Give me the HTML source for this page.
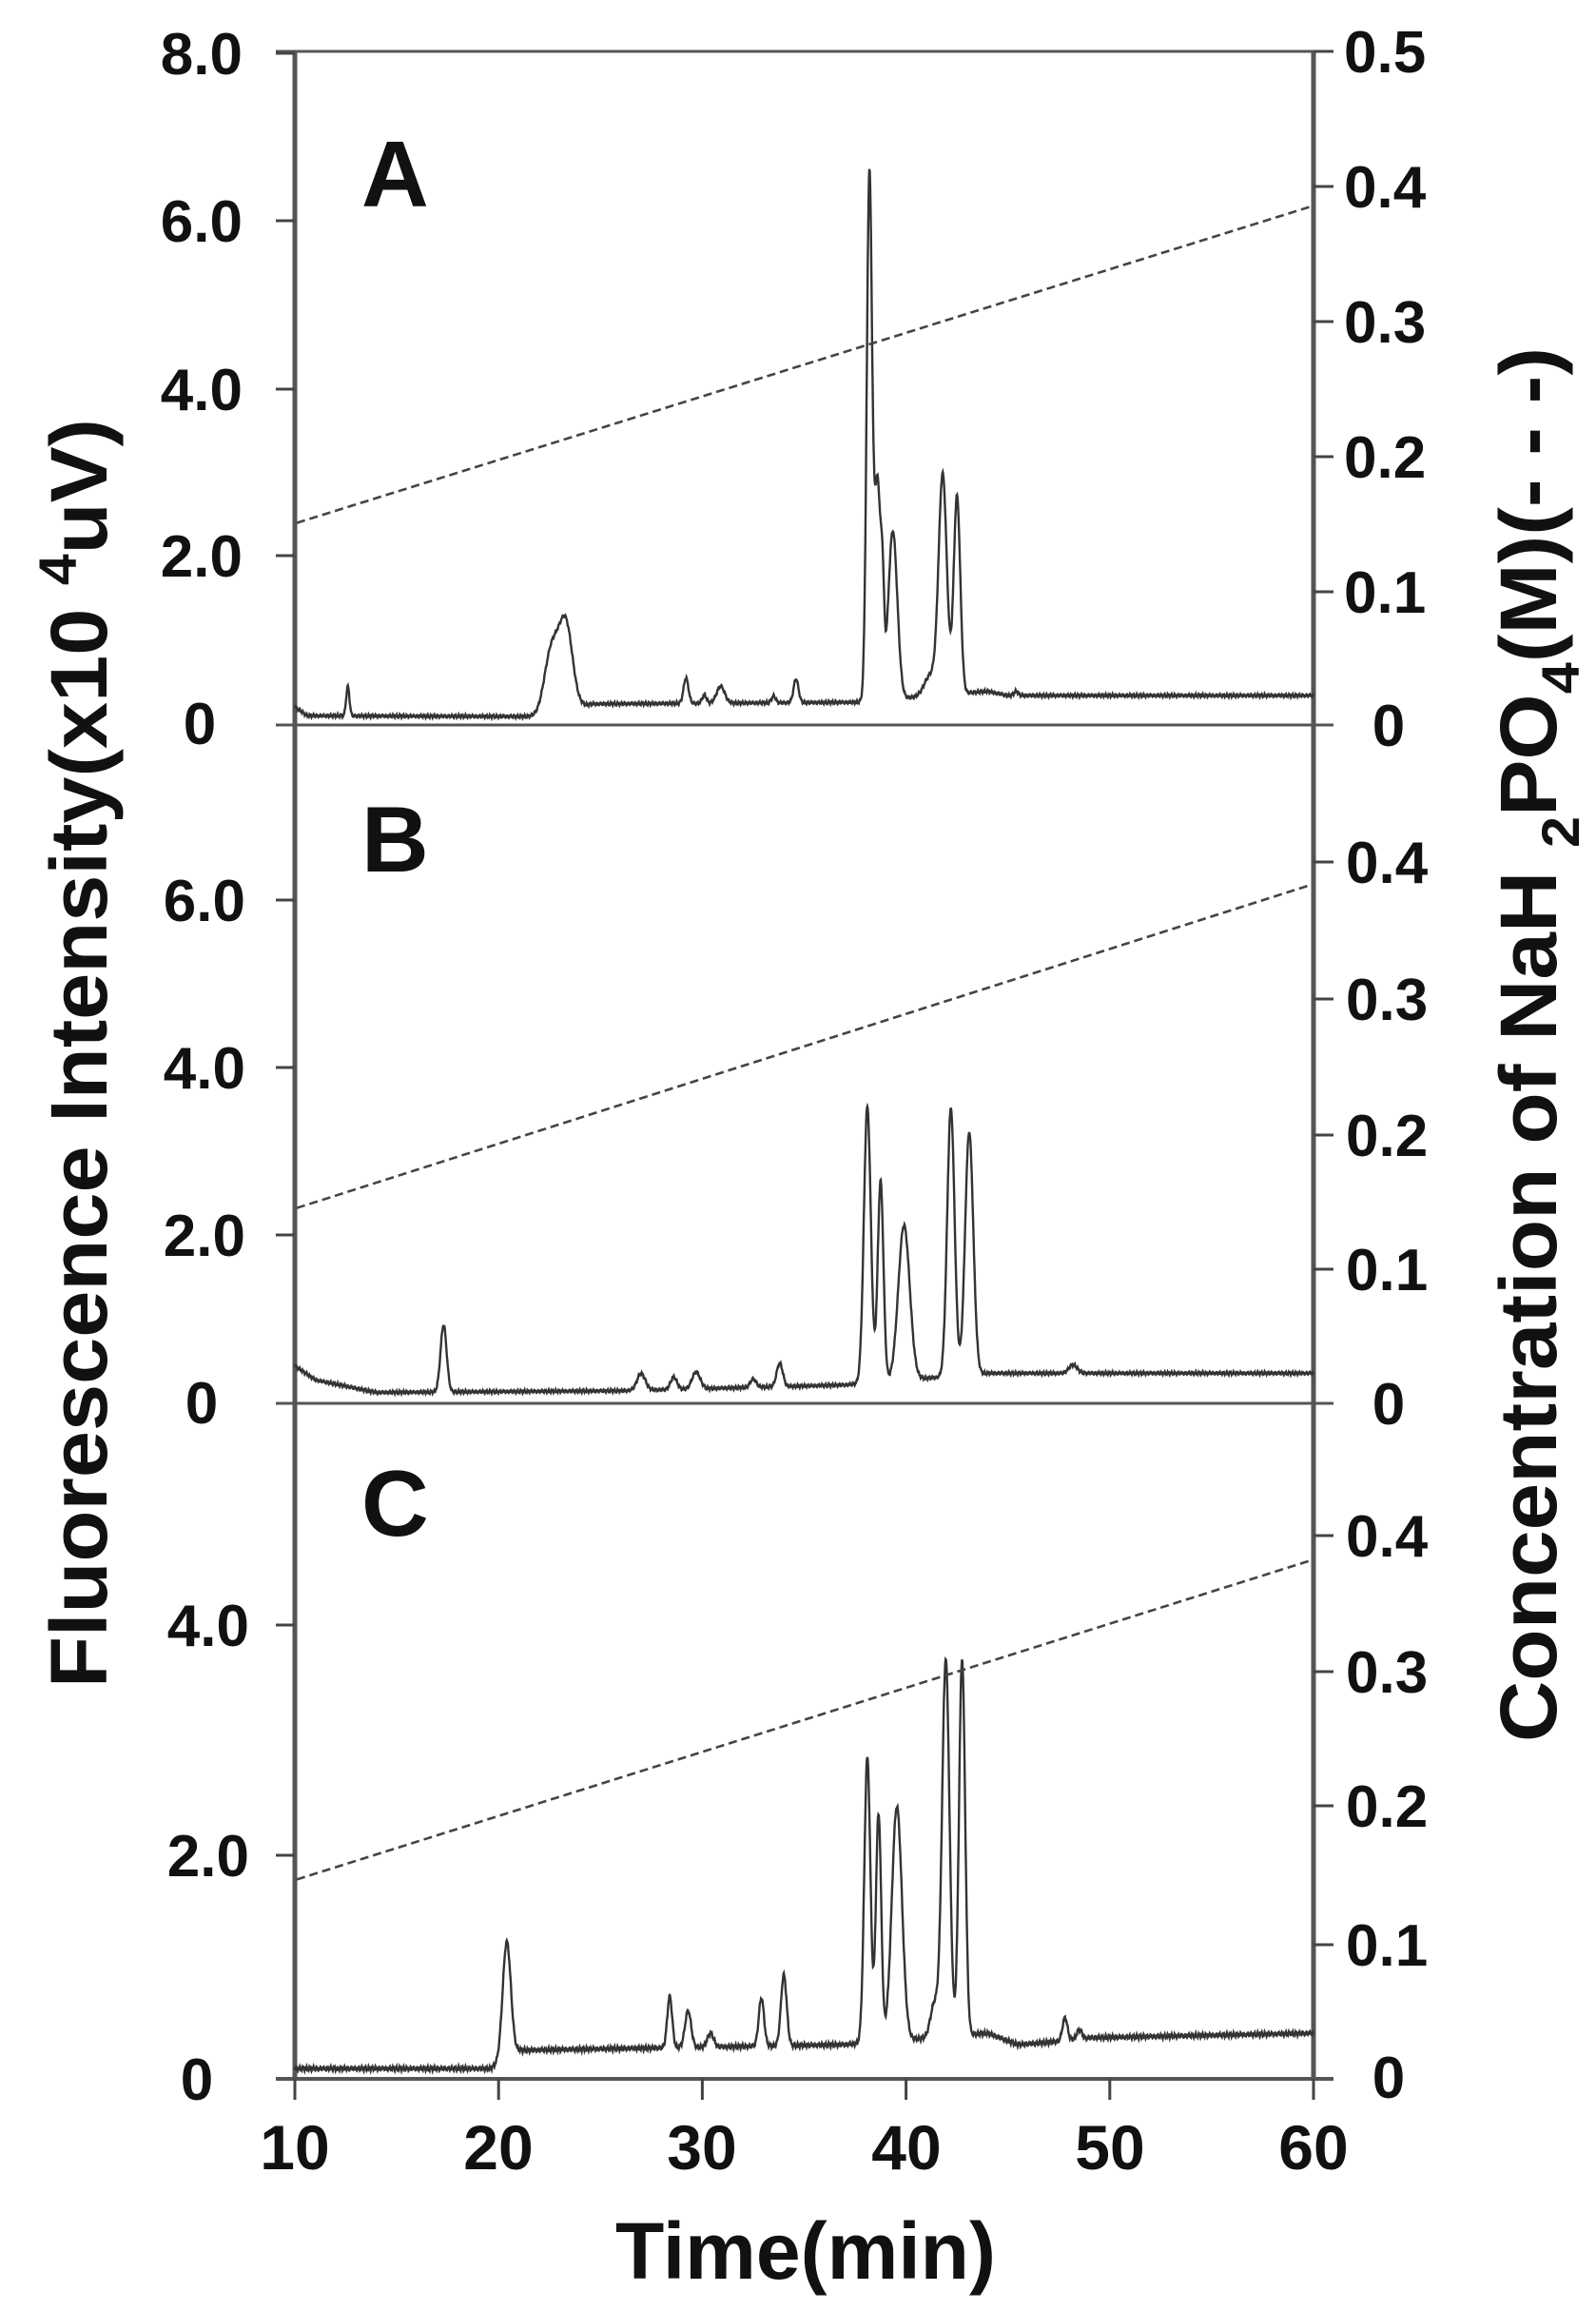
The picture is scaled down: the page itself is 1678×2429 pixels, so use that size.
<!DOCTYPE html>
<html><head><meta charset="utf-8">
<style>
html,body{margin:0;padding:0;background:#fff;}
svg{display:block;}
text{font-family:"Liberation Sans",Arial,sans-serif;font-weight:bold;fill:#111;}
</style></head>
<body>
<svg id="s" width="1678" height="2429" viewBox="0 0 1678 2429" xmlns="http://www.w3.org/2000/svg">
<g id="axes" stroke="#555" fill="none">
  <line x1="310" y1="54" x2="310" y2="2185" stroke-width="5"/>
  <line x1="1381" y1="54" x2="1381" y2="2185" stroke-width="5"/>
  <line x1="290" y1="54" x2="1402" y2="54" stroke-width="3"/>
  <line x1="290" y1="762" x2="1402" y2="762" stroke-width="3"/>
  <line x1="290" y1="1475" x2="1402" y2="1475" stroke-width="3"/>
  <line x1="290" y1="2185" x2="1402" y2="2185" stroke-width="4"/>
</g>
<g id="ticks" stroke="#444" stroke-width="3"></g>
<g id="curves"></g>
<g id="labels">
  <text x="380" y="217" font-size="98">A</text>
  <text x="380" y="916" font-size="98">B</text>
  <text x="380" y="1614" font-size="98">C</text>

  <text x="255" y="78" font-size="62" text-anchor="end">8.0</text>
  <text x="255" y="254" font-size="62" text-anchor="end">6.0</text>
  <text x="255" y="431" font-size="62" text-anchor="end">4.0</text>
  <text x="255" y="606" font-size="62" text-anchor="end">2.0</text>
  <text x="210" y="782" font-size="62" text-anchor="middle">0</text>

  <text x="258" y="968" font-size="62" text-anchor="end">6.0</text>
  <text x="258" y="1144" font-size="62" text-anchor="end">4.0</text>
  <text x="258" y="1320" font-size="62" text-anchor="end">2.0</text>
  <text x="212" y="1496" font-size="62" text-anchor="middle">0</text>

  <text x="262" y="1730" font-size="62" text-anchor="end">4.0</text>
  <text x="262" y="1972" font-size="62" text-anchor="end">2.0</text>
  <text x="207" y="2207" font-size="62" text-anchor="middle">0</text>

  <text x="1413" y="76" font-size="62">0.5</text>
  <text x="1413" y="218" font-size="62">0.4</text>
  <text x="1413" y="360" font-size="62">0.3</text>
  <text x="1413" y="502" font-size="62">0.2</text>
  <text x="1413" y="644" font-size="62">0.1</text>
  <text x="1460" y="784" font-size="62" text-anchor="middle">0</text>

  <text x="1415" y="928" font-size="62">0.4</text>
  <text x="1415" y="1072" font-size="62">0.3</text>
  <text x="1415" y="1215" font-size="62">0.2</text>
  <text x="1415" y="1356" font-size="62">0.1</text>
  <text x="1460" y="1497" font-size="62" text-anchor="middle">0</text>

  <text x="1415" y="1636" font-size="62">0.4</text>
  <text x="1415" y="1779" font-size="62">0.3</text>
  <text x="1415" y="1920" font-size="62">0.2</text>
  <text x="1415" y="2066" font-size="62">0.1</text>
  <text x="1460" y="2205" font-size="62" text-anchor="middle">0</text>

  <text x="310" y="2280" font-size="66" text-anchor="middle">10</text>
  <text x="524" y="2280" font-size="66" text-anchor="middle">20</text>
  <text x="738" y="2280" font-size="66" text-anchor="middle">30</text>
  <text x="953" y="2280" font-size="66" text-anchor="middle">40</text>
  <text x="1167" y="2280" font-size="66" text-anchor="middle">50</text>
  <text x="1381" y="2280" font-size="66" text-anchor="middle">60</text>

  <text x="847" y="2395" font-size="84" text-anchor="middle" textLength="400" lengthAdjust="spacingAndGlyphs">Time(min)</text>

  <text transform="translate(112,1107) rotate(-90)" font-size="84" text-anchor="middle" textLength="1334" lengthAdjust="spacingAndGlyphs">Fluorescence Intensity(x10 <tspan dy="-32" font-size="56">4</tspan><tspan dy="32">uV)</tspan></text>

  <text transform="translate(1636,1098) rotate(-90)" font-size="84" text-anchor="middle" textLength="1466" lengthAdjust="spacingAndGlyphs">Concentration of NaH <tspan dy="24" font-size="56">2</tspan><tspan dy="-24">PO</tspan><tspan dy="24" font-size="56">4</tspan><tspan dy="-24">(M)(- - -)</tspan></text>
</g>
</svg>
<script>
(function(){
var NS="http://www.w3.org/2000/svg";
function X(t){return 310+(t-10)*21.42;}
var ticks=document.getElementById("ticks");
function ln(x1,y1,x2,y2){var l=document.createElementNS(NS,"line");l.setAttribute("x1",x1);l.setAttribute("y1",y1);l.setAttribute("x2",x2);l.setAttribute("y2",y2);ticks.appendChild(l);}
[56,232,409,584,946,1122,1298,1708,1950].forEach(function(y){ln(290,y,310,y);});
[54,196,338,480,622,906,1050,1193,1334,1614,1757,1898,2044].forEach(function(y){ln(1381,y,1402,y);});
for(var t=10;t<=60;t+=10){ln(X(t),2185,X(t),2207);}

var panels=[
 {bot:762,sc:88.5,r0:0.150,r1:0.385,
  base:[[10,0.22],[10.6,0.11],[22,0.1],[24.6,0.25],[37.5,0.27],[44,0.4],[45,0.35],[60,0.35]],
  pk:[[12.6,0.35,0.08],[22.6,0.75,0.35],[23.3,1.0,0.33],[29.2,0.3,0.12],[30.1,0.1,0.1],[30.9,0.2,0.2],[33.5,0.08,0.1],[34.6,0.28,0.12],
      [38.2,6.2,0.13],[38.6,2.6,0.16],[38.85,0.9,0.08],[39.35,2.0,0.22],[41.2,0.25,0.3],[41.8,2.6,0.2],[42.5,2.35,0.16],[45.4,0.05,0.1]]},
 {bot:1475,sc:88,r0:0.145,r1:0.385,
  base:[[10,0.45],[11,0.28],[14,0.13],[26,0.15],[37,0.22],[44,0.36],[60,0.36]],
  pk:[[17.3,0.8,0.15],[27,0.2,0.2],[28.6,0.15,0.15],[29.7,0.2,0.2],[32.5,0.1,0.15],[33.8,0.28,0.15],
      [38.1,3.3,0.17],[38.75,2.4,0.14],[39.9,1.85,0.28],[42.2,3.2,0.18],[43.1,2.9,0.2],[48.2,0.1,0.2]]},
 {bot:2185,sc:120,r0:0.148,r1:0.385,
  base:[[10,0.09],[19.6,0.09],[21,0.25],[37,0.3],[44,0.4],[45.5,0.3],[47,0.32],[49,0.36],[60,0.4]],
  pk:[[20.4,1.02,0.2],[28.4,0.45,0.12],[29.3,0.32,0.15],[30.4,0.12,0.15],[32.9,0.42,0.13],[34.0,0.62,0.14],
      [38.1,2.5,0.15],[38.65,2.0,0.13],[39.55,2.05,0.25],[41.4,0.3,0.2],[41.95,3.3,0.18],[42.75,3.3,0.15],[47.8,0.2,0.12],[48.5,0.08,0.12]]}
];
function baseAt(b,t){for(var i=0;i<b.length-1;i++){if(t<=b[i+1][0]){var f=(t-b[i][0])/(b[i+1][0]-b[i][0]);return b[i][1]+f*(b[i+1][1]-b[i][1]);}}return b[b.length-1][1];}
var cg=document.getElementById("curves");
panels.forEach(function(p){
  var d="";
  for(var t=10;t<=60.0001;t+=0.02){
    var v=baseAt(p.base,t);
    p.pk.forEach(function(k){var z=(t-k[0])/k[2];v+=k[1]*Math.exp(-0.5*z*z);});
    v+=0.012*Math.sin(t*37)+0.008*Math.sin(t*91);
    d+=(d?"L":"M")+X(t).toFixed(1)+" "+(p.bot-v*p.sc).toFixed(1);
  }
  var pa=document.createElementNS(NS,"path");pa.setAttribute("d",d);pa.setAttribute("fill","none");pa.setAttribute("stroke","#333");pa.setAttribute("stroke-width","2.4");cg.appendChild(pa);
  var l=document.createElementNS(NS,"line");
  l.setAttribute("x1",312);l.setAttribute("y1",p.bot-p.r0*1416);l.setAttribute("x2",1379);l.setAttribute("y2",p.bot-p.r1*1416);
  l.setAttribute("stroke","#444");l.setAttribute("stroke-width","2.6");l.setAttribute("stroke-dasharray","9 5");cg.appendChild(l);
});
})();
</script>
</body></html>
